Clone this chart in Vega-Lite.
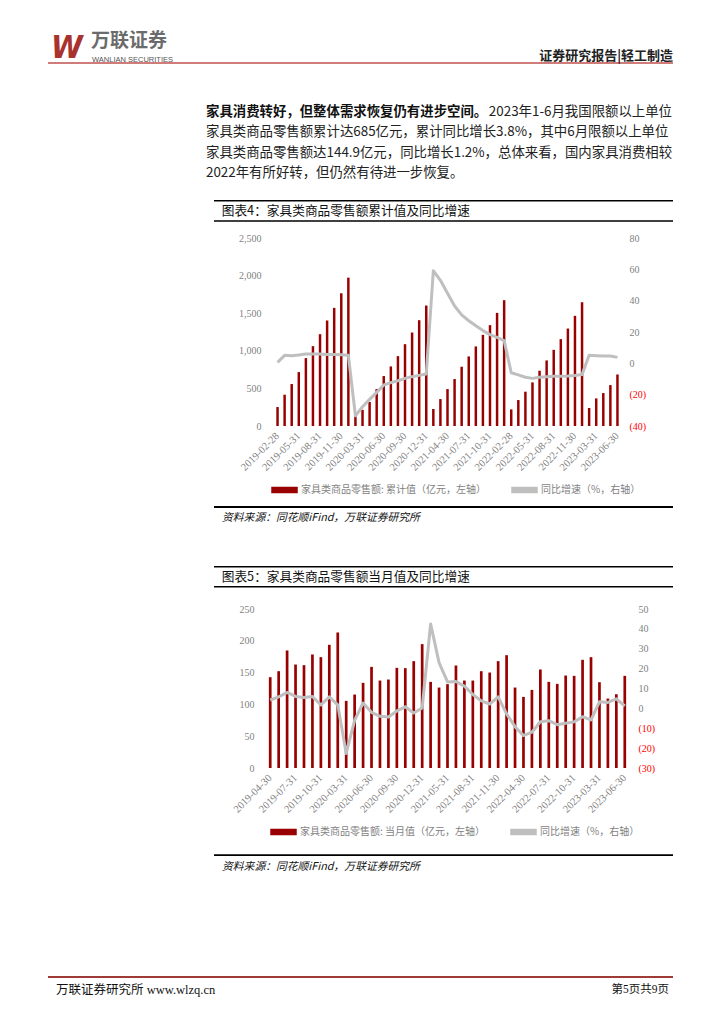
{
  "$schema": "https://vega.github.io/schema/vega-lite/v6.json",
  "background": "white",
  "padding": {"left": 47, "top": 30, "right": 0, "bottom": 0},
  "autosize": {"type": "pad"},
  "spacing": 0,
  "config": {"view": {"stroke": null}, "concat": {"spacing": 0}},
  "resolve": {"scale": {"color": "independent"}, "legend": {"color": "independent"}},
  "datasets": {
    "cum": [
      {"month": "2019-02-28", "amount": 252, "yoy": 0.6},
      {"month": "2019-03-31", "amount": 416, "yoy": 5.1},
      {"month": "2019-04-30", "amount": 558, "yoy": 4.9},
      {"month": "2019-05-31", "amount": 717, "yoy": 5.3},
      {"month": "2019-06-30", "amount": 903, "yoy": 6.0},
      {"month": "2019-07-31", "amount": 1062, "yoy": 5.9},
      {"month": "2019-08-31", "amount": 1221, "yoy": 5.9},
      {"month": "2019-09-30", "amount": 1403, "yoy": 5.7},
      {"month": "2019-10-31", "amount": 1571, "yoy": 5.6},
      {"month": "2019-11-30", "amount": 1765, "yoy": 5.5},
      {"month": "2019-12-31", "amount": 1973, "yoy": 5.1},
      {"month": "2020-02-29", "amount": 160, "yoy": -33.5},
      {"month": "2020-03-31", "amount": 215, "yoy": -27.7},
      {"month": "2020-04-30", "amount": 319, "yoy": -23.0},
      {"month": "2020-05-31", "amount": 491, "yoy": -18.5},
      {"month": "2020-06-30", "amount": 664, "yoy": -13.8},
      {"month": "2020-07-31", "amount": 792, "yoy": -12.3},
      {"month": "2020-08-31", "amount": 929, "yoy": -11.1},
      {"month": "2020-09-30", "amount": 1088, "yoy": -9.6},
      {"month": "2020-10-31", "amount": 1243, "yoy": -8.5},
      {"month": "2020-11-30", "amount": 1407, "yoy": -7.7},
      {"month": "2020-12-31", "amount": 1602, "yoy": -6.8},
      {"month": "2021-02-28", "amount": 226, "yoy": 59.1},
      {"month": "2021-03-31", "amount": 358, "yoy": 53.0},
      {"month": "2021-04-30", "amount": 491, "yoy": 44.7},
      {"month": "2021-05-31", "amount": 624, "yoy": 36.6},
      {"month": "2021-06-30", "amount": 788, "yoy": 30.9},
      {"month": "2021-07-31", "amount": 925, "yoy": 27.2},
      {"month": "2021-08-31", "amount": 1058, "yoy": 24.0},
      {"month": "2021-09-30", "amount": 1212, "yoy": 20.9},
      {"month": "2021-10-31", "amount": 1341, "yoy": 18.3},
      {"month": "2021-11-30", "amount": 1504, "yoy": 16.6},
      {"month": "2021-12-31", "amount": 1673, "yoy": 14.5},
      {"month": "2022-02-28", "amount": 221, "yoy": -6.0},
      {"month": "2022-03-31", "amount": 345, "yoy": -7.4},
      {"month": "2022-04-30", "amount": 456, "yoy": -8.9},
      {"month": "2022-05-31", "amount": 580, "yoy": -9.6},
      {"month": "2022-06-30", "amount": 735, "yoy": -8.9},
      {"month": "2022-07-31", "amount": 872, "yoy": -8.5},
      {"month": "2022-08-31", "amount": 1013, "yoy": -8.3},
      {"month": "2022-09-30", "amount": 1155, "yoy": -8.3},
      {"month": "2022-10-31", "amount": 1296, "yoy": -8.1},
      {"month": "2022-11-30", "amount": 1465, "yoy": -7.7},
      {"month": "2022-12-31", "amount": 1646, "yoy": -7.2},
      {"month": "2023-02-28", "amount": 239, "yoy": 5.1},
      {"month": "2023-03-31", "amount": 367, "yoy": 4.9},
      {"month": "2023-04-30", "amount": 438, "yoy": 4.7},
      {"month": "2023-05-31", "amount": 544, "yoy": 4.7},
      {"month": "2023-06-30", "amount": 685, "yoy": 3.8}
    ],
    "mon": [
      {"month": "2019-04-30", "amount": 142.8, "yoy": 4.2},
      {"month": "2019-05-31", "amount": 152.2, "yoy": 5.8},
      {"month": "2019-06-30", "amount": 184.8, "yoy": 8.0},
      {"month": "2019-07-31", "amount": 162.7, "yoy": 6.0},
      {"month": "2019-08-31", "amount": 161.7, "yoy": 5.5},
      {"month": "2019-09-30", "amount": 178.5, "yoy": 6.0},
      {"month": "2019-10-31", "amount": 174.3, "yoy": 1.7},
      {"month": "2019-11-30", "amount": 193.7, "yoy": 5.8},
      {"month": "2019-12-31", "amount": 213.1, "yoy": 1.8},
      {"month": "2020-03-31", "amount": 105.5, "yoy": -22.7},
      {"month": "2020-04-30", "amount": 115.5, "yoy": -6.0},
      {"month": "2020-05-31", "amount": 133.9, "yoy": 2.7},
      {"month": "2020-06-30", "amount": 159.0, "yoy": -2.0},
      {"month": "2020-07-31", "amount": 137.5, "yoy": -4.0},
      {"month": "2020-08-31", "amount": 139.1, "yoy": -4.3},
      {"month": "2020-09-30", "amount": 157.5, "yoy": -1.3},
      {"month": "2020-10-31", "amount": 157.0, "yoy": 0.8},
      {"month": "2020-11-30", "amount": 168.0, "yoy": -2.3},
      {"month": "2020-12-31", "amount": 194.8, "yoy": 0.2},
      {"month": "2021-03-31", "amount": 135.4, "yoy": 42.5},
      {"month": "2021-04-30", "amount": 126.5, "yoy": 23.0},
      {"month": "2021-05-31", "amount": 131.8, "yoy": 13.3},
      {"month": "2021-06-30", "amount": 161.2, "yoy": 13.5},
      {"month": "2021-07-31", "amount": 137.5, "yoy": 11.2},
      {"month": "2021-08-31", "amount": 137.5, "yoy": 7.0},
      {"month": "2021-09-30", "amount": 152.2, "yoy": 3.8},
      {"month": "2021-10-31", "amount": 150.1, "yoy": 2.2},
      {"month": "2021-11-30", "amount": 168.0, "yoy": 5.8},
      {"month": "2021-12-31", "amount": 177.4, "yoy": -2.8},
      {"month": "2022-03-31", "amount": 126.5, "yoy": -9.2},
      {"month": "2022-04-30", "amount": 111.8, "yoy": -13.7},
      {"month": "2022-05-31", "amount": 122.8, "yoy": -12.0},
      {"month": "2022-06-30", "amount": 154.9, "yoy": -6.7},
      {"month": "2022-07-31", "amount": 135.4, "yoy": -6.2},
      {"month": "2022-08-31", "amount": 132.3, "yoy": -8.2},
      {"month": "2022-09-30", "amount": 145.4, "yoy": -7.5},
      {"month": "2022-10-31", "amount": 144.9, "yoy": -6.8},
      {"month": "2022-11-30", "amount": 170.1, "yoy": -4.2},
      {"month": "2022-12-31", "amount": 174.3, "yoy": -5.8},
      {"month": "2023-03-31", "amount": 134.9, "yoy": 3.3},
      {"month": "2023-04-30", "amount": 109.2, "yoy": 3.0},
      {"month": "2023-05-31", "amount": 116.0, "yoy": 4.8},
      {"month": "2023-06-30", "amount": 144.9, "yoy": 1.2}
    ]
  },
  "vconcat": [
    {
      "width": 625, "height": 34,
      "data": {"values": [
        {"part": "logo", "text": "W"},
        {"part": "name", "text": "万联证券"},
        {"part": "en", "text": "WANLIAN SECURITIES"},
        {"part": "report", "text": "证券研究报告|轻工制造"}
      ]},
      "layer": [
        {"transform": [{"filter": "datum.part === 'logo'"}],
         "mark": {"type": "rule", "color": "#c0504d", "strokeWidth": 1.3},
         "encoding": {"y": {"datum": 0.029, "type": "quantitative", "scale": {"domain": [0, 1], "nice": false}, "axis": null}}},
        {"transform": [{"filter": "datum.part === 'logo'"}],
         "mark": {"type": "text", "align": "left", "baseline": "middle", "font": "DejaVu Sans Condensed, DejaVu Sans", "fontStyle": "italic", "fontWeight": "bold", "fontSize": 32, "color": "#a8322d"},
         "encoding": {"x": {"datum": 0.0048, "type": "quantitative", "scale": {"domain": [0, 1], "nice": false}, "axis": null},
                      "y": {"datum": 0.476, "type": "quantitative", "axis": null},
                      "text": {"field": "text"}}},
        {"transform": [{"filter": "datum.part === 'name'"}],
         "mark": {"type": "text", "align": "left", "baseline": "middle", "font": "Noto Sans CJK SC", "fontWeight": "bold", "fontSize": 19, "color": "#6b6b6b"},
         "encoding": {"x": {"datum": 0.0688, "type": "quantitative", "axis": null},
                      "y": {"datum": 0.662, "type": "quantitative", "axis": null},
                      "text": {"field": "text"}}},
        {"transform": [{"filter": "datum.part === 'en'"}],
         "mark": {"type": "text", "align": "left", "baseline": "middle", "font": "Liberation Sans", "fontSize": 7.5, "color": "#555555"},
         "encoding": {"x": {"datum": 0.0704, "type": "quantitative", "axis": null},
                      "y": {"datum": 0.13, "type": "quantitative", "axis": null},
                      "text": {"field": "text"}}},
        {"transform": [{"filter": "datum.part === 'report'"}],
         "mark": {"type": "text", "align": "right", "baseline": "middle", "font": "Noto Sans CJK SC", "fontWeight": "bold", "fontSize": 13, "color": "#222222"},
         "encoding": {"x": {"datum": 1, "type": "quantitative", "axis": null},
                      "y": {"datum": 0.235, "type": "quantitative", "axis": null},
                      "text": {"field": "text"}}}
      ]
    },
    {
      "hconcat": [
        {"width": 158, "height": 1, "data": {"values": []}, "mark": "text", "encoding": {}},
        {
          "width": 466, "height": 136,
          "data": {"values": [
            {"line": 1, "seg": "lead", "text": "家具消费转好，但整体需求恢复仍有进步空间。"},
            {"line": 1, "seg": "rest", "text": "2023年1-6月我国限额以上单位"},
            {"line": 2, "seg": "body", "text": "家具类商品零售额累计达685亿元，累计同比增长3.8%，其中6月限额以上单位"},
            {"line": 3, "seg": "body", "text": "家具类商品零售额达144.9亿元，同比增长1.2%，总体来看，国内家具消费相较"},
            {"line": 4, "seg": "body", "text": "2022年有所好转，但仍然有待进一步恢复。"}
          ]},
          "encoding": {
            "y": {"field": "line", "type": "quantitative", "scale": {"domain": [-1.3155, 5.287], "reverse": true, "nice": false, "zero": false}, "axis": null},
            "text": {"field": "text"}
          },
          "layer": [
            {"transform": [{"filter": "datum.seg === 'lead'"}],
             "mark": {"type": "text", "align": "left", "baseline": "middle", "font": "Noto Sans CJK SC", "fontWeight": "bold", "fontSize": 13.4, "color": "#111111"},
             "encoding": {"x": {"datum": 0, "type": "quantitative", "scale": {"domain": [0, 1], "nice": false}, "axis": null}}},
            {"transform": [{"filter": "datum.seg === 'rest'"}],
             "mark": {"type": "text", "align": "right", "baseline": "middle", "font": "Noto Sans CJK SC", "fontSize": 13.4, "color": "#222222"},
             "encoding": {"x": {"datum": 1, "type": "quantitative", "axis": null}}},
            {"transform": [{"filter": "datum.seg === 'body'"}],
             "mark": {"type": "text", "align": "left", "baseline": "middle", "font": "Noto Sans CJK SC", "fontSize": 13.4, "color": "#222222"},
             "encoding": {"x": {"datum": 0, "type": "quantitative", "axis": null}}}
          ]
        }
      ],
      "bounds": "flush", "spacing": 0
    },
    {
      "hconcat": [
        {"width": 166, "height": 1, "data": {"values": []}, "mark": "text", "encoding": {}},
        {
          "width": 459, "height": 33,
          "data": {"values": [{"text": "图表4：家具类商品零售额累计值及同比增速"}]},
          "layer": [
            {"mark": {"type": "rule", "color": "#000000", "strokeWidth": 1.3},
             "encoding": {"y": {"datum": 0.977, "type": "quantitative", "scale": {"domain": [0, 1], "nice": false}, "axis": null}}},
            {"mark": {"type": "rule", "color": "#000000", "strokeWidth": 1.5},
             "encoding": {"y": {"datum": 0.364, "type": "quantitative", "axis": null}}},
            {"mark": {"type": "text", "align": "left", "baseline": "middle", "font": "Noto Sans CJK SC", "fontSize": 12.7, "color": "#111111"},
             "encoding": {"x": {"datum": 0.0168, "type": "quantitative", "scale": {"domain": [0, 1], "nice": false}, "axis": null},
                          "y": {"datum": 0.676, "type": "quantitative", "axis": null},
                          "text": {"field": "text"}}}
          ]
        }
      ],
      "bounds": "flush", "spacing": 0
    },
    {
      "hconcat": [
        {"width": 226, "height": 1, "data": {"values": []}, "mark": "text", "encoding": {}},
        {
          "width": 347, "height": 188,
          "data": {"name": "cum"},
          "encoding": {
            "x": {"field": "month", "type": "ordinal", "sort": null,
                  "scale": {"type": "band", "paddingInner": 0.65, "paddingOuter": 0.325},
                  "axis": {"values": ["2019-02-28", "2019-05-31", "2019-08-31", "2019-11-30", "2020-03-31", "2020-06-30", "2020-09-30", "2020-12-31", "2021-04-30", "2021-07-31", "2021-10-31", "2022-02-28", "2022-05-31", "2022-08-31", "2022-11-30", "2023-03-31", "2023-06-30"],
                           "labelAngle": -45, "labelAlign": "right", "labelBaseline": "middle", "labelPadding": 8,
                           "domain": false, "ticks": false, "grid": false, "title": null, "labelOverlap": false,
                           "labelFont": "Liberation Serif", "labelFontSize": 10.5, "labelColor": "#7f7f7f",
                           "minExtent": 80, "maxExtent": 80}}
          },
          "layer": [
            {"mark": {"type": "bar"},
             "encoding": {
               "y": {"field": "amount", "type": "quantitative", "scale": {"domain": [0, 2500], "nice": false},
                     "axis": {"orient": "left", "values": [0, 500, 1000, 1500, 2000, 2500], "format": ",.0f", "domain": false, "ticks": false, "grid": false, "title": null, "labelPadding": 13, "labelFont": "Liberation Serif", "labelFontSize": 10, "labelColor": "#7f7f7f"}},
               "color": {"datum": "家具类商品零售额: 累计值（亿元，左轴）",
                         "scale": {"domain": ["家具类商品零售额: 累计值（亿元，左轴）", "同比增速（%，右轴）"], "range": ["#990000", "#bfbfbf"]},
                         "legend": {"orient": "none", "legendX": 223, "legendY": 238.5, "direction": "horizontal", "title": null, "symbolType": "M-1,-0.2H1V0.2H-1Z", "symbolSize": 625, "labelFont": "Noto Sans CJK SC", "labelFontSize": 10, "labelColor": "#7f7f7f", "labelLimit": 400, "columnPadding": 22, "labelOffset": 3, "padding": 0}}
             }},
            {"mark": {"type": "line", "strokeWidth": 3, "strokeJoin": "round"},
             "encoding": {
               "y": {"field": "yoy", "type": "quantitative", "scale": {"domain": [-40, 80], "nice": false, "zero": false},
                     "axis": {"orient": "right", "values": [-40, -20, 0, 20, 40, 60, 80], "labelExpr": "datum.value < 0 ? '(' + (-datum.value) + ')' : datum.label", "labelColor": {"condition": {"test": "datum.value < 0", "value": "#ff0000"}, "value": "#7f7f7f"}, "domain": false, "ticks": false, "grid": false, "title": null, "labelPadding": 8, "labelFont": "Liberation Serif", "labelFontSize": 10}},
               "color": {"datum": "同比增速（%，右轴）"}
             }}
          ],
          "resolve": {"scale": {"y": "independent"}}
        }
      ],
      "bounds": "flush", "spacing": 0
    },
    {
      "hconcat": [
        {"width": 166, "height": 1, "data": {"values": []}, "mark": "text", "encoding": {}},
        {
          "width": 459, "height": 60,
          "data": {"values": [{"text": "资料来源：同花顺iFind，万联证券研究所"}]},
          "layer": [
            {"mark": {"type": "rule", "color": "#000000", "strokeWidth": 1.8},
             "encoding": {"y": {"datum": 0.983, "type": "quantitative", "scale": {"domain": [0, 1], "nice": false}, "axis": null}}},
            {"mark": {"type": "text", "align": "left", "baseline": "middle", "font": "Noto Sans CJK SC", "fontStyle": "italic", "fontSize": 10.8, "color": "#111111"},
             "encoding": {"x": {"datum": 0.0174, "type": "quantitative", "scale": {"domain": [0, 1], "nice": false}, "axis": null},
                          "y": {"datum": 0.795, "type": "quantitative", "axis": null},
                          "text": {"field": "text"}}}
          ]
        }
      ],
      "bounds": "flush", "spacing": 0
    },
    {
      "hconcat": [
        {"width": 166, "height": 1, "data": {"values": []}, "mark": "text", "encoding": {}},
        {
          "width": 459, "height": 38,
          "data": {"values": [{"text": "图表5：家具类商品零售额当月值及同比增速"}]},
          "layer": [
            {"mark": {"type": "rule", "color": "#000000", "strokeWidth": 1.3},
             "encoding": {"y": {"datum": 0.98, "type": "quantitative", "scale": {"domain": [0, 1], "nice": false}, "axis": null}}},
            {"mark": {"type": "rule", "color": "#000000", "strokeWidth": 1.5},
             "encoding": {"y": {"datum": 0.455, "type": "quantitative", "axis": null}}},
            {"mark": {"type": "text", "align": "left", "baseline": "middle", "font": "Noto Sans CJK SC", "fontSize": 12.7, "color": "#111111"},
             "encoding": {"x": {"datum": 0.0168, "type": "quantitative", "scale": {"domain": [0, 1], "nice": false}, "axis": null},
                          "y": {"datum": 0.718, "type": "quantitative", "axis": null},
                          "text": {"field": "text"}}}
          ]
        }
      ],
      "bounds": "flush", "spacing": 0
    },
    {
      "hconcat": [
        {"width": 218, "height": 1, "data": {"values": []}, "mark": "text", "encoding": {}},
        {
          "width": 363, "height": 159,
          "data": {"name": "mon"},
          "encoding": {
            "x": {"field": "month", "type": "ordinal", "sort": null,
                  "scale": {"type": "band", "paddingInner": 0.68, "paddingOuter": 0.34},
                  "axis": {"values": ["2019-04-30", "2019-07-31", "2019-10-31", "2020-03-31", "2020-06-30", "2020-09-30", "2020-12-31", "2021-05-31", "2021-08-31", "2021-11-30", "2022-04-30", "2022-07-31", "2022-10-31", "2023-03-31", "2023-06-30"],
                           "labelAngle": -45, "labelAlign": "right", "labelBaseline": "middle", "labelPadding": 8,
                           "domain": false, "ticks": false, "grid": false, "title": null, "labelOverlap": false,
                           "labelFont": "Liberation Serif", "labelFontSize": 10.5, "labelColor": "#7f7f7f",
                           "minExtent": 80, "maxExtent": 80}}
          },
          "layer": [
            {"mark": {"type": "bar"},
             "encoding": {
               "y": {"field": "amount", "type": "quantitative", "scale": {"domain": [0, 250], "nice": false},
                     "axis": {"orient": "left", "values": [0, 50, 100, 150, 200, 250], "format": ",.0f", "domain": false, "ticks": false, "grid": false, "title": null, "labelPadding": 12, "labelFont": "Liberation Serif", "labelFontSize": 10, "labelColor": "#7f7f7f"}},
               "color": {"datum": "家具类商品零售额: 当月值（亿元，左轴）",
                         "scale": {"domain": ["家具类商品零售额: 当月值（亿元，左轴）", "同比增速（%，右轴）"], "range": ["#990000", "#bfbfbf"]},
                         "legend": {"orient": "none", "legendX": 222, "legendY": 209.5, "direction": "horizontal", "title": null, "symbolType": "M-1,-0.2H1V0.2H-1Z", "symbolSize": 625, "labelFont": "Noto Sans CJK SC", "labelFontSize": 10, "labelColor": "#7f7f7f", "labelLimit": 400, "columnPadding": 22, "labelOffset": 3, "padding": 0}}
             }},
            {"mark": {"type": "line", "strokeWidth": 3, "strokeJoin": "round"},
             "encoding": {
               "y": {"field": "yoy", "type": "quantitative", "scale": {"domain": [-30, 50], "nice": false, "zero": false},
                     "axis": {"orient": "right", "values": [-30, -20, -10, 0, 10, 20, 30, 40, 50], "labelExpr": "datum.value < 0 ? '(' + (-datum.value) + ')' : datum.label", "labelColor": {"condition": {"test": "datum.value < 0", "value": "#ff0000"}, "value": "#7f7f7f"}, "domain": false, "ticks": false, "grid": false, "title": null, "labelPadding": 9, "labelFont": "Liberation Serif", "labelFontSize": 10}},
               "color": {"datum": "同比增速（%，右轴）"}
             }}
          ],
          "resolve": {"scale": {"y": "independent"}}
        }
      ],
      "bounds": "flush", "spacing": 0
    },
    {
      "hconcat": [
        {"width": 166, "height": 1, "data": {"values": []}, "mark": "text", "encoding": {}},
        {
          "width": 459, "height": 128,
          "data": {"values": [{"text": "资料来源：同花顺iFind，万联证券研究所"}]},
          "layer": [
            {"mark": {"type": "rule", "color": "#000000", "strokeWidth": 1.8},
             "encoding": {"y": {"datum": 0.945, "type": "quantitative", "scale": {"domain": [0, 1], "nice": false}, "axis": null}}},
            {"mark": {"type": "text", "align": "left", "baseline": "middle", "font": "Noto Sans CJK SC", "fontStyle": "italic", "fontSize": 10.8, "color": "#111111"},
             "encoding": {"x": {"datum": 0.0174, "type": "quantitative", "scale": {"domain": [0, 1], "nice": false}, "axis": null},
                          "y": {"datum": 0.855, "type": "quantitative", "axis": null},
                          "text": {"field": "text"}}}
          ]
        }
      ],
      "bounds": "flush", "spacing": 0
    },
    {
      "width": 625, "height": 24,
      "data": {"values": [
        {"side": "left", "text": "万联证券研究所 www.wlzq.cn"},
        {"side": "right", "text": "第5页共9页"}
      ]},
      "layer": [
        {"transform": [{"filter": "datum.side === 'left'"}],
         "mark": {"type": "rule", "color": "#9e3a38", "strokeWidth": 2},
         "encoding": {"y": {"datum": 0.958, "type": "quantitative", "scale": {"domain": [0, 1], "nice": false}, "axis": null}}},
        {"transform": [{"filter": "datum.side === 'left'"}],
         "mark": {"type": "text", "align": "left", "baseline": "middle", "font": "Liberation Serif, Noto Sans CJK SC", "fontSize": 12.5, "color": "#111111"},
         "encoding": {"x": {"datum": 0.0128, "type": "quantitative", "scale": {"domain": [0, 1], "nice": false}, "axis": null},
                      "y": {"datum": 0.417, "type": "quantitative", "axis": null},
                      "text": {"field": "text"}}},
        {"transform": [{"filter": "datum.side === 'right'"}],
         "mark": {"type": "text", "align": "right", "baseline": "middle", "font": "Liberation Serif, Noto Sans CJK SC", "fontSize": 11.5, "color": "#111111"},
         "encoding": {"x": {"datum": 0.9936, "type": "quantitative", "axis": null},
                      "y": {"datum": 0.417, "type": "quantitative", "axis": null},
                      "text": {"field": "text"}}}
      ]
    }
  ]
}
